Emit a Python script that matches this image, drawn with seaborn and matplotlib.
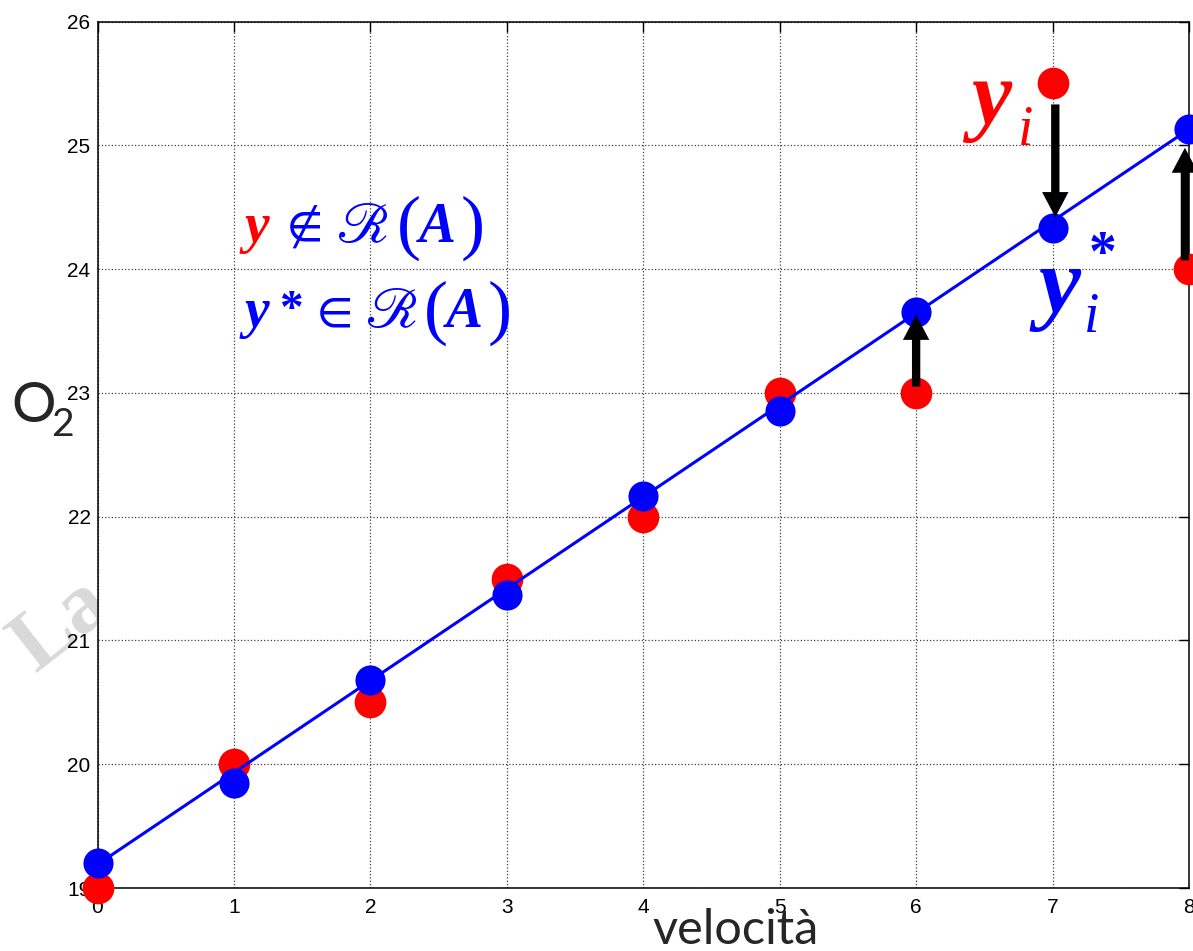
import matplotlib
matplotlib.use("Agg")
import matplotlib.pyplot as plt
import seaborn as sns

# Measured values (red) and their projection onto the range of A (blue)
velocita = [0, 1, 2, 3, 4, 5, 6, 7, 8]
o2_misurato = [19.0, 20.0, 20.5, 21.5, 22.0, 23.0, 23.0, 25.5, 24.0]
o2_proiezione = [19.2, 19.85, 20.68, 21.37, 22.17, 22.85, 23.65, 24.33, 25.13]

# Least-squares line endpoints
retta_x = [0, 8]
retta_y = [19.19, 25.13]

# Residual arrows: x, start value, end value
freccia_x = [6, 7.02, 7.97]
freccia_da = [23.05, 25.33, 24.07]
freccia_a = [23.63, 24.42, 24.98]

x_ticks = [0, 1, 2, 3, 4, 5, 6, 7, 8]
y_ticks = [19, 20, 21, 22, 23, 24, 25, 26]

W, H = 1193, 951
sns.set_style("white")
plt.rcParams["font.family"] = ["Liberation Sans", "DejaVu Sans"]

fig = plt.figure(figsize=(W / 100, H / 100), dpi=100)
ax = fig.add_axes([97.5 / W, 1 - 888 / H, (1189 - 97.5) / W, (888 - 21.5) / H])
ax.set_facecolor("white")

RED = "#ff0000"
BLUE = "#0000ff"

sns.scatterplot(x=velocita, y=o2_misurato, color=RED, s=520, linewidth=0,
                ax=ax, zorder=3, clip_on=False)
sns.lineplot(x=retta_x, y=retta_y, color=BLUE, linewidth=2.2, ax=ax, zorder=4)
sns.scatterplot(x=velocita, y=o2_proiezione, color=BLUE, s=470, linewidth=0,
                ax=ax, zorder=5, clip_on=False)

for xa, y0, y1 in zip(freccia_x, freccia_da, freccia_a):
    ax.annotate("", xy=(xa, y1), xytext=(xa, y0),
                arrowprops=dict(facecolor="black", edgecolor="none", width=6,
                                headwidth=19, headlength=18, shrink=0),
                zorder=6, annotation_clip=False)

ax.set_xlim(0, 8)
ax.set_ylim(19, 26)
ax.set_xticks(x_ticks)
ax.set_yticks(y_ticks)
ax.set_xticklabels([str(v) for v in x_ticks])
ax.set_yticklabels([str(v) for v in y_ticks])
ax.tick_params(axis="both", direction="in", length=7.5, width=1.0, color="black",
               labelsize=15, top=True, right=True, labelcolor="black")
ax.tick_params(axis="x", pad=7)
ax.tick_params(axis="y", pad=5)
ax.grid(True, linestyle=":", linewidth=0.9, color="0.25")
ax.set_axisbelow(True)
for sp in ax.spines.values():
    sp.set_visible(True)
    sp.set_color("black")
    sp.set_linewidth(1.1)
ax.set_xlabel("")
ax.set_ylabel("")


def ftext(px, py, s, va="baseline", **kw):
    return fig.text(px / W, 1 - py / H, s, ha="left", va=va, **kw)


SERIF = "Liberation Serif"
STIX = "STIXGeneral"
bi = dict(family=SERIF, weight="bold", style="italic")

# Axis titles
ftext(11, 422, "O", fontsize=40, family="Lato")
ftext(51, 436, "2", fontsize=28, family="Lato")
ftext(652, 944, "velocità", fontsize=35, family="Lato")

# Watermark fragment behind the axes
fig.text(62 / W, 1 - 626 / H, "La", fontsize=62, family=SERIF,
         weight="bold", color="#d9d9d9", rotation=38, ha="center", va="center",
         zorder=-1)

# y not in R(A)
ftext(245, 242, "y", fontsize=40, color=RED, **bi)
ftext(287, 228, "∉", fontsize=38, color=BLUE, family=STIX, va="center")
ftext(336, 242, "ℛ", fontsize=41, color=BLUE, family=STIX)
ftext(397, 228, "(", fontsize=52, color=BLUE, family=SERIF, va="center")
ftext(419, 242, "A", fontsize=40, color=BLUE, **bi)
ftext(461, 228, ")", fontsize=52, color=BLUE, family=SERIF, va="center")

# y* in R(A)
ftext(245, 327, "y", fontsize=40, color=BLUE, **bi)
ftext(279, 322, "*", fontsize=34, color=BLUE, family=SERIF, weight="bold")
ftext(317, 313, "∈", fontsize=38, color=BLUE, family=STIX, va="center")
ftext(365, 327, "ℛ", fontsize=41, color=BLUE, family=STIX)
ftext(424, 313, "(", fontsize=52, color=BLUE, family=SERIF, va="center")
ftext(446, 327, "A", fontsize=40, color=BLUE, **bi)
ftext(488, 313, ")", fontsize=52, color=BLUE, family=SERIF, va="center")

# Point labels
ftext(971, 124, "y", fontsize=65, color=RED, **bi)
ftext(1018, 145, "i", fontsize=40, color=RED, family=SERIF, style="italic")
ftext(1038, 312, "y", fontsize=68, color=BLUE, **bi)
ftext(1084, 332, "i", fontsize=40, color=BLUE, family=SERIF, style="italic")
ftext(1089, 270, "*", fontsize=40, color=BLUE, family=SERIF, weight="bold")

fig.savefig("out.png", dpi=100)
